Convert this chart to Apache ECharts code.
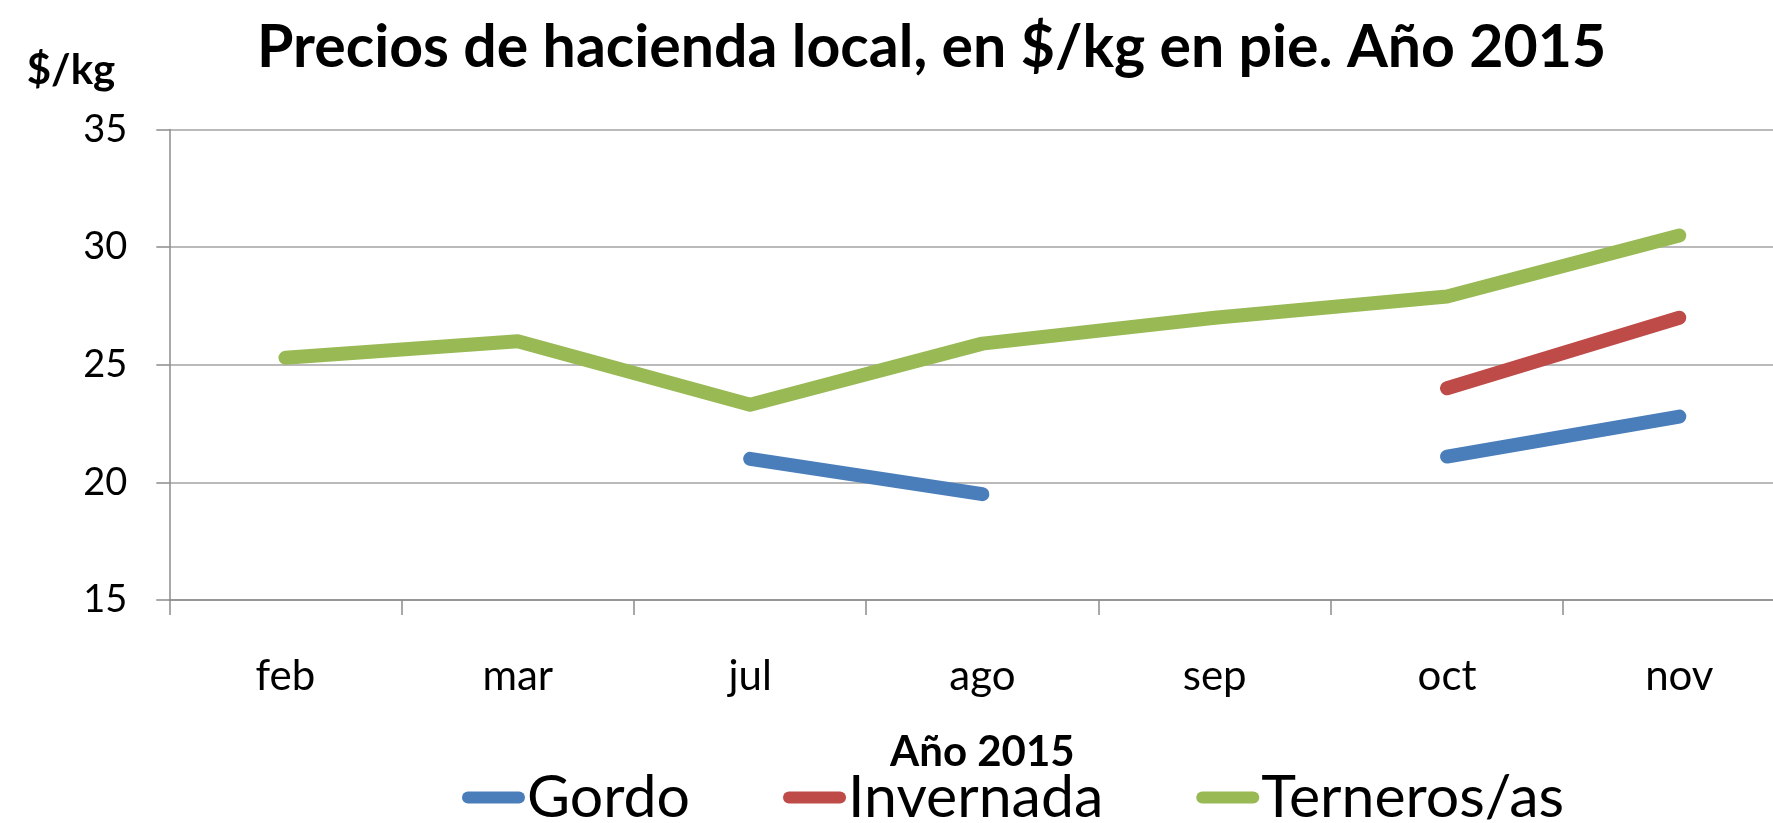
<!DOCTYPE html>
<html>
<head>
<meta charset="utf-8">
<script src="https://cdn.jsdelivr.net/npm/echarts@6/dist/echarts.min.js"></script>
<style>
html,body{margin:0;padding:0;background:#fff;overflow:hidden;}
#chart{width:1773px;height:823px;}
</style>
</head>
<body>
<div id="chart"></div>
<script>
const categories = ['feb', 'mar', 'jul', 'ago', 'sep', 'oct', 'nov'];
const gordo = [null, null, 21.0, 19.5, null, 21.1, 22.8];
const invernada = [null, null, null, null, null, 24.0, 27.0];
const terneros = [25.3, 26.0, 23.3, 25.9, 27.0, 27.9, 30.5];
const seriesNames = ['Gordo', 'Invernada', 'Terneros/as'];
const yTicks = { min: 15, max: 35, interval: 5 };

const colors = ['#4a7ebb', '#be4b48', '#98b954'];
const FONT = 'Lato';
const legendIcon = 'path://M6,0 H57 A6,6 0 0 1 57,12 H6 A6,6 0 0 1 6,0 Z';

const chart = echarts.init(document.getElementById('chart'), null, { renderer: 'canvas' });

function lineSeries(name, data, color) {
  return {
    name: name,
    type: 'line',
    data: data,
    symbol: 'none',
    connectNulls: false,
    lineStyle: { width: 14, color: color, cap: 'round', join: 'round' },
    itemStyle: { color: color },
    emphasis: { disabled: true }
  };
}

chart.setOption({
  animation: false,
  backgroundColor: '#ffffff',
  color: colors,
  title: {
    text: 'Precios de hacienda local, en $/kg en pie. Año 2015',
    left: 252,
    top: 13,
    textStyle: { fontFamily: FONT, fontWeight: 'bold', fontSize: 59, color: '#000' }
  },
  grid: { left: 169.3, width: 1626.2, top: 129.6, height: 470.4, outerBoundsMode: 'none', containLabel: false },
  xAxis: {
    type: 'category',
    data: categories,
    boundaryGap: true,
    name: 'Año 2015',
    nameLocation: 'middle',
    nameGap: 131,
    nameTextStyle: { fontFamily: FONT, fontWeight: 'bold', fontSize: 42, color: '#000' },
    axisLine: { show: true, lineStyle: { color: '#8c8c8c', width: 1.5 } },
    axisTick: { show: true, length: 15, inside: false, alignWithLabel: false, lineStyle: { color: '#8c8c8c', width: 1.5 } },
    axisLabel: { fontFamily: FONT, fontSize: 42, color: '#000', margin: 55 },
    splitLine: { show: false }
  },
  yAxis: {
    type: 'value',
    min: yTicks.min,
    max: yTicks.max,
    interval: yTicks.interval,
    name: '$/kg',
    nameLocation: 'end',
    nameGap: 38,
    nameTextStyle: { fontFamily: FONT, fontWeight: 'bold', fontSize: 42, color: '#000', align: 'right', verticalAlign: 'bottom', padding: [0, 54, 0, 0] },
    axisLine: { show: true, lineStyle: { color: '#8c8c8c', width: 1.5 } },
    axisTick: { show: true, length: 13, inside: false, lineStyle: { color: '#8c8c8c', width: 1.5 } },
    axisLabel: { fontFamily: FONT, fontSize: 38, color: '#000', margin: 42 },
    splitLine: { show: true, lineStyle: { color: '#a3a3a3', width: 1.5 } }
  },
  legend: {
    left: 457,
    top: 763,
    itemWidth: 63,
    itemHeight: 12,
    itemGap: 93,
    data: seriesNames.map(n => ({ name: n, icon: legendIcon })),
    textStyle: { fontFamily: FONT, fontSize: 59, color: '#000', padding: [0, 0, 0, -3] }
  },
  series: [
    lineSeries(seriesNames[0], gordo, colors[0]),
    lineSeries(seriesNames[1], invernada, colors[1]),
    lineSeries(seriesNames[2], terneros, colors[2])
  ]
});
</script>
</body>
</html>
